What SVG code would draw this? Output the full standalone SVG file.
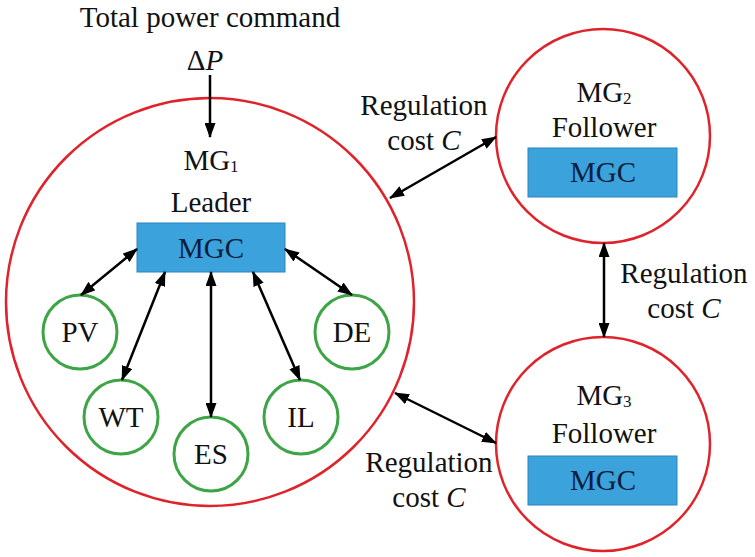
<svg xmlns="http://www.w3.org/2000/svg" width="755" height="557" viewBox="0 0 755 557" font-family="'Liberation Serif', 'Times New Roman', Tinos, 'DejaVu Serif', serif">
<defs>
<marker id="ah" markerUnits="userSpaceOnUse" markerWidth="15" markerHeight="11" refX="14" refY="5.5" orient="auto-start-reverse" viewBox="0 0 15 11">
<path d="M0,0 L15,5.5 L0,11 z" fill="#000"/>
</marker>
<style>
text{font-family:'Liberation Serif','Times New Roman',Tinos,'DejaVu Serif',serif;font-size:29px;fill:#111;text-anchor:middle}
.mg{fill:#fff;stroke:#E0232B;stroke-width:2.5}
.sub{fill:#fff;stroke:#3DA546;stroke-width:3}
.box{fill:#3BA2DC;stroke:#2B86BD;stroke-width:1}
.mgc{fill:#0E1E3C}
.c line{stroke:#000;stroke-width:2.5;marker-start:url(#ah);marker-end:url(#ah)}
.s{font-size:17px}
</style>
</defs>
<rect width="755" height="557" fill="#fff"/>
<text x="210" y="27">Total power command</text>
<text x="205" y="70">Δ<tspan font-style="italic">P</tspan></text>

<g id="MG1">
<circle class="mg" cx="210" cy="302" r="204"/>
<text x="211" y="170">MG<tspan class="s" dy="2">1</tspan></text>
<text x="211" y="212">Leader</text>
<rect class="box" x="137" y="223" width="148" height="49"/>
<text class="mgc" x="211" y="258">MGC</text>
</g>
<g id="PV"><circle class="sub" cx="80" cy="332" r="37"/><text x="80" y="342">PV</text></g>
<g id="DE"><circle class="sub" cx="352" cy="332" r="37"/><text x="352" y="342">DE</text></g>
<g id="WT"><circle class="sub" cx="121" cy="417" r="37"/><text x="121" y="427">WT</text></g>
<g id="IL"><circle class="sub" cx="301" cy="417" r="37"/><text x="301" y="427">IL</text></g>
<g id="ES"><circle class="sub" cx="211" cy="454" r="37"/><text x="211" y="464">ES</text></g>

<g id="MG2">
<circle class="mg" cx="603" cy="136" r="107"/>
<text x="604" y="102">MG<tspan class="s" dy="2">2</tspan></text>
<text x="604" y="137">Follower</text>
<rect class="box" x="528" y="148" width="149" height="49"/>
<text class="mgc" x="603" y="182">MGC</text>
</g>
<g id="MG3">
<circle class="mg" cx="603" cy="444" r="107"/>
<text x="604" y="405">MG<tspan class="s" dy="2">3</tspan></text>
<text x="604" y="443">Follower</text>
<rect class="box" x="528" y="456" width="149" height="49"/>
<text class="mgc" x="603" y="490">MGC</text>
</g>

<g id="connectors" class="c">
<line x1="210" y1="75" x2="210" y2="137" style="marker-start:none"/>
<line x1="137" y1="249" x2="81" y2="295"/>
<line x1="165" y1="272" x2="122" y2="380"/>
<line x1="211" y1="272" x2="211" y2="417"/>
<line x1="253" y1="272" x2="300" y2="380"/>
<line x1="285" y1="249" x2="352" y2="295"/>
<line x1="390" y1="198" x2="496" y2="137"/>
<line x1="604" y1="243" x2="604" y2="337"/>
<line x1="395" y1="393" x2="496" y2="443"/>
</g>

<g id="labels">
<text x="424" y="115">Regulation</text>
<text x="424" y="150">cost <tspan font-style="italic">C</tspan></text>
<text x="684" y="283">Regulation</text>
<text x="684" y="318">cost <tspan font-style="italic">C</tspan></text>
<text x="429" y="472">Regulation</text>
<text x="429" y="507">cost <tspan font-style="italic">C</tspan></text>
</g>
</svg>
